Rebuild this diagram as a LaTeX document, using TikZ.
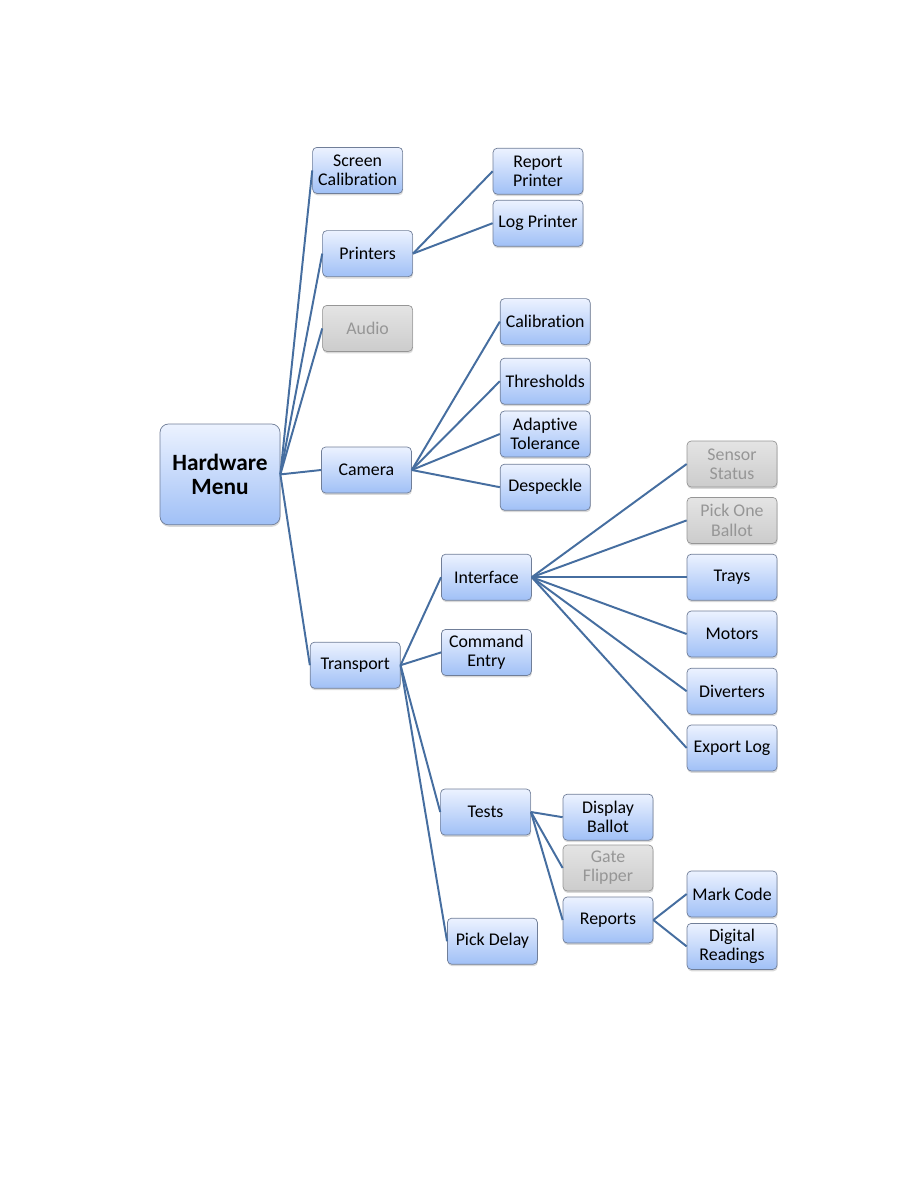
\documentclass[tikz,border=0pt]{standalone}
\usepackage{fontspec}
\setmainfont{Carlito}[Ligatures=NoCommon]
\usepackage{xcolor}
\definecolor{boxtop}{RGB}{236,242,255}
\definecolor{boxbot}{RGB}{160,192,246}
\definecolor{boxline}{RGB}{112,126,152}
\definecolor{greytop}{RGB}{228,228,228}
\definecolor{greybot}{RGB}{204,204,204}
\definecolor{greyline}{RGB}{150,150,150}
\definecolor{greytext}{RGB}{150,150,150}
\definecolor{linkblue}{RGB}{70,110,160}
\usepackage{tikz}
\usetikzlibrary{shadows}

\begin{document}
\begin{tikzpicture}[
  font=\fontsize{12.7}{13.6}\selectfont,
  item/.style={
    rectangle, rounded corners=3pt,
    minimum width=2.25cm, minimum height=1.15cm,
    inner sep=1pt, align=center,
    draw=boxline, top color=boxtop, bottom color=boxbot,
    line width=0.5pt,
    drop shadow={shadow xshift=0.4pt, shadow yshift=-1.4pt, opacity=0.3}
  },
  inactive/.style={
    item, draw=greyline, top color=greytop, bottom color=greybot,
    text=greytext
  },
  menu/.style={
    item, rounded corners=6pt,
    minimum width=3.0cm, minimum height=2.52cm,
    font=\fontsize{16.6}{17.6}\selectfont\bfseries
  },
  link/.style={draw=linkblue, line width=1.4pt}
]
\useasboundingbox (0,0) rectangle (22.95,-29.7);

\node[menu] (hw) at (5.50,-11.86) {Hardware\\Menu};

\node[item] (scr) at (8.94,-4.26) {Screen\\Calibration};
\node[item] (prn) at (9.19,-6.34) {Printers};
\node[inactive] (aud) at (9.19,-8.21) {Audio};
\node[item] (cam) at (9.16,-11.75) {Camera};
\node[item] (trn) at (8.88,-16.63) {Transport};

\node[item] (rpr) at (13.45,-4.28) {Report\\Printer};
\node[item] (lpr) at (13.45,-5.58) {Log Printer};

\node[item] (cal) at (13.63,-8.04) {Calibration};
\node[item] (thr) at (13.63,-9.53) {Thresholds};
\node[item] (ada) at (13.63,-10.85) {Adaptive\\Tolerance};
\node[item] (dsp) at (13.63,-12.18) {Despeckle};

\node[item] (itf) at (12.16,-14.43) {Interface};
\node[item] (cmd) at (12.16,-16.31) {Command\\Entry};
\node[item] (tst) at (12.14,-20.30) {Tests};
\node[item] (pdl) at (12.31,-23.53) {Pick Delay};

\node[inactive] (sns) at (18.30,-11.60) {Sensor\\Status};
\node[inactive] (pob) at (18.30,-13.01) {Pick One\\Ballot};
\node[item] (try) at (18.30,-14.43) {Trays};
\node[item] (mot) at (18.30,-15.85) {Motors};
\node[item] (div) at (18.30,-17.28) {Diverters};
\node[item] (exl) at (18.30,-18.70) {Export Log};

\node[item] (dba) at (15.20,-20.43) {Display\\Ballot};
\node[inactive] (gfl) at (15.20,-21.70) {Gate\\Flipper};
\node[item] (rep) at (15.20,-23.00) {Reports};

\node[item] (mkc) at (18.30,-22.35) {Mark Code};
\node[item] (dgr) at (18.30,-23.66) {Digital\\Readings};

% links from each parent to its children
\foreach \n in {scr,prn,aud,cam,trn} {
  \draw[link] (hw.east) -- (\n.west);
}
\foreach \n in {rpr,lpr} {
  \draw[link] (prn.east) -- (\n.west);
}
\foreach \n in {cal,thr,ada,dsp} {
  \draw[link] (cam.east) -- (\n.west);
}
\foreach \n in {itf,cmd,tst,pdl} {
  \draw[link] (trn.east) -- (\n.west);
}
\foreach \n in {sns,pob,try,mot,div,exl} {
  \draw[link] (itf.east) -- (\n.west);
}
\foreach \n in {dba,gfl,rep} {
  \draw[link] (tst.east) -- (\n.west);
}
\foreach \n in {mkc,dgr} {
  \draw[link] (rep.east) -- (\n.west);
}
\end{tikzpicture}
\end{document}
